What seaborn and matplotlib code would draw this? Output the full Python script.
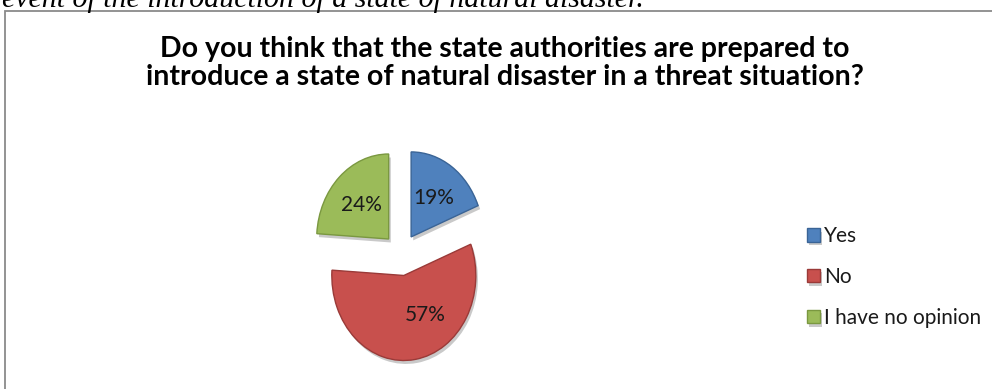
import matplotlib
matplotlib.use("Agg")
import matplotlib.pyplot as plt
import matplotlib.patheffects as pe
from matplotlib.patches import Rectangle
import seaborn as sns
import numpy as np

# ---- data ----
categories = ["Yes", "No", "I have no opinion"]
values = [19, 57, 24]
title_lines = ["Do you think that the state authorities are prepared to",
               "introduce a state of natural disaster in a threat situation?"]
caption_text = "event of the introduction of a state of natural disaster."

sns.set_theme(style="white")
plt.rcParams["font.family"] = ["Lato", "DejaVu Sans"]

colors = sns.color_palette(["#4f81bd", "#c8504d", "#9bbb59"])
edge_colors = ["#3a6496", "#9a3a38", "#7a9840"]

W, H = 992, 389
fig = plt.figure(figsize=(W / 100, H / 100), dpi=100)
fig.patch.set_facecolor("white")

def fx(px):
    return px / W

def fy(py_top):
    return 1 - py_top / H

# cut-off caption at top (only its lower half is visible)
fig.text(fx(2), fy(7), caption_text, family=["Liberation Serif"], style="italic",
         fontsize=21.5, ha="left", va="baseline", color="black")

# chart frame
fig.add_artist(Rectangle((fx(5), -0.1), 1.2, fy(11) + 0.1, transform=fig.transFigure,
                         fill=False, edgecolor="#8a8a8a", linewidth=1.3))

# title (two lines)
for line, base in zip(title_lines, [57, 85]):
    fig.text(fx(505), fy(base), line, ha="center", va="baseline", fontsize=20.5,
             fontweight="bold", color="black")

# pie axes: 1 unit = 72 px horizontally, 85 px vertically
rx, ry = 72, 85
cx, cy = 401, 254.5
ext = 1.5
ax = fig.add_axes([fx(cx - ext * rx), fy(cy + ext * ry), 2 * ext * rx / W, 2 * ext * ry / H])
pctd = 0.55
wedges, texts, autotexts = ax.pie(
    values, colors=colors, startangle=90, counterclock=False,
    explode=[0.25, 0.25, 0.25], autopct="%1.0f%%", pctdistance=pctd,
    textprops=dict(fontsize=15, color="#1a1a1a"),
    wedgeprops=dict(linewidth=1.0),
)
for w, ec in zip(wedges, edge_colors):
    w.set_edgecolor(ec)
    w.set_path_effects([pe.SimplePatchShadow(offset=(1.5, -2.5), shadow_rgbFace="#888888", alpha=0.45),
                        pe.Normal()])
# red label sits to the right of the wedge middle (best-fit placement)
wr = wedges[1]
mid = np.deg2rad((wr.theta1 + wr.theta2) / 2 + 24)
ccx, ccy = wr.center
autotexts[1].set_position((ccx + pctd * np.cos(mid), ccy + pctd * np.sin(mid)))
ax.set_aspect("auto")
ax.set_xlim(-ext, ext)
ax.set_ylim(-ext, ext)
ax.axis("off")

# legend
leg = fig.legend(wedges, categories, loc="center left",
                 bbox_to_anchor=(fx(788), fy(277)), frameon=False,
                 fontsize=15, handlelength=0.62, handleheight=0.62,
                 handletextpad=0.2, labelspacing=1.0)
for t in leg.get_texts():
    t.set_color("#1a1a1a")

fig.savefig("out.png", dpi=100)
